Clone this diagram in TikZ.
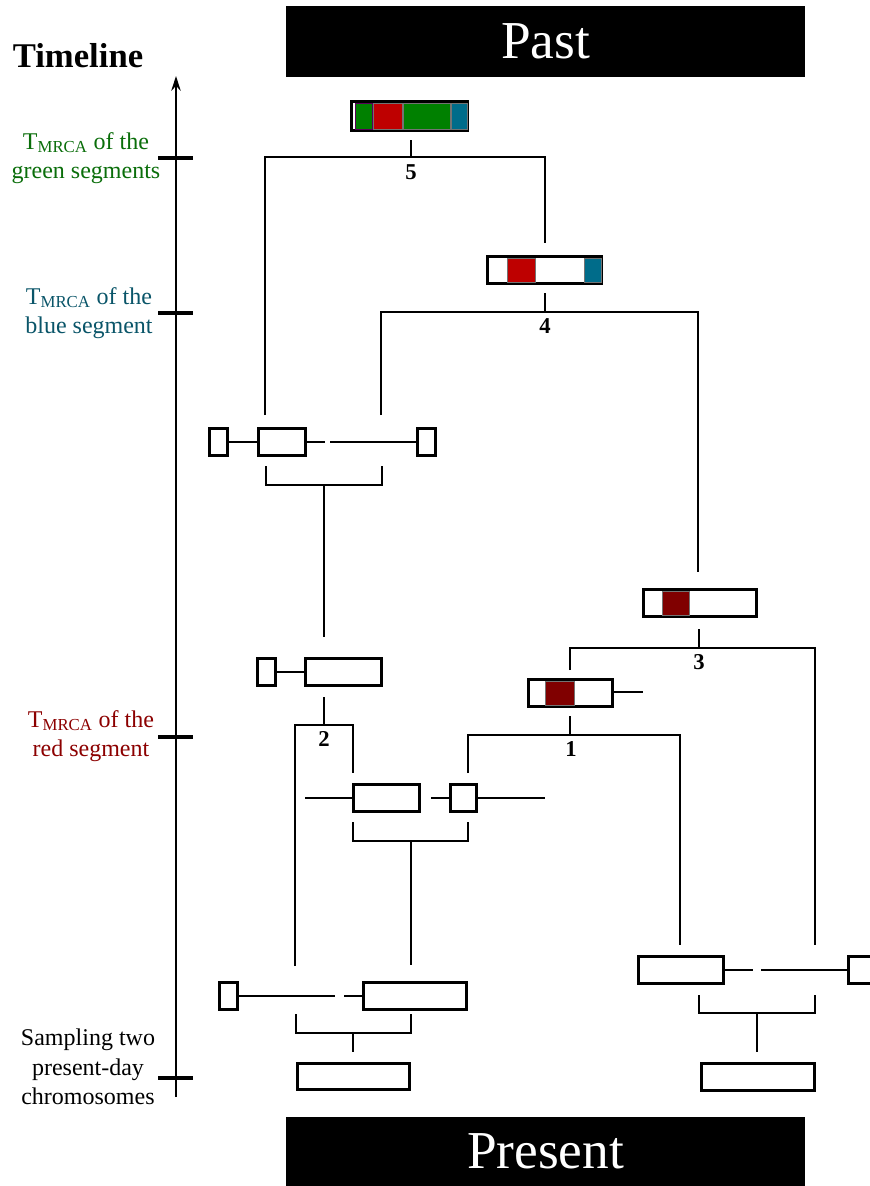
\documentclass[tikz,border=0pt]{standalone}
\usepackage{fontspec}
\setmainfont{Liberation Serif}
\usetikzlibrary{arrows.meta}

\definecolor{segGreen}{RGB}{0,128,0}
\definecolor{segRed}{RGB}{190,0,0}
\definecolor{segBlue}{RGB}{0,108,138}
\definecolor{segDark}{RGB}{128,0,0}
\definecolor{txtGreen}{RGB}{10,110,10}
\definecolor{txtBlue}{RGB}{10,85,105}
\definecolor{txtRed}{RGB}{140,0,0}

% chromosome box given by its outer corners (x1,y1) (x2,y2) in pixel units
\newcommand\chrom[5]{%
  \node[chrom, minimum width={(#4-#2-3)*0.75pt}, minimum height={(#5-#3-3)*0.75pt}]
    (#1) at ({(#2+#4)/2},{(#3+#5)/2}) {};}

\begin{document}
\begin{tikzpicture}[x=0.75pt,y=-0.75pt,
  chrom/.style={rectangle, draw=black, line width=2.4pt, fill=white, inner sep=0pt, outer sep=0pt},
  arm/.style={line width=2pt},
  tree/.style={line width=1.15pt},
  segc/.style={draw=black!55, line width=0.7pt},
  tlabel/.style={align=center, inner sep=0pt, font=\fontsize{18}{22}\selectfont},
  num/.style={anchor=north, inner sep=0pt, font=\bfseries\fontsize{17}{17}\selectfont},
  banner/.style={fill=black, text=white, inner sep=0pt, font=\fontsize{40}{40}\selectfont},
  axtick/.style={line width=3pt}]

\clip (0,0) rectangle (870,1186);
\fill[white] (0,0) rectangle (870,1186);

% banners
\node[banner, minimum width=519*0.75pt, minimum height=71*0.75pt] (past) at (545.5,41.5) {Past};
\node[banner, minimum width=519*0.75pt, minimum height=69*0.75pt] (present) at (545.5,1151.5) {Present};

% timeline
\node[inner sep=0pt, font=\bfseries\fontsize{26}{26}\selectfont] (tl) at (78,56) {Timeline};
\coordinate (axbot) at (176,1097);
\coordinate (axtop) at (176,76);
\draw[line width=1.5pt, -{Stealth[length=11pt, width=7pt]}] (axbot) -- (axtop);
\draw[axtick] (158,158) -- (193,158);
\draw[axtick] (158,313) -- (193,313);
\draw[axtick] (158,737) -- (193,737);
\draw[axtick] (158,1078) -- (193,1078);

\node[tlabel, text=txtGreen] (lgreen) at (86,158) {T\textsubscript{MRCA} of the\\green segments};
\node[tlabel, text=txtBlue] (lblue) at (89,313) {T\textsubscript{MRCA} of the\\blue segment};
\node[tlabel, text=txtRed] (lred) at (91,736) {T\textsubscript{MRCA} of the\\red segment};
\node[tlabel, text=black] (lsample) at (88,1067) {Sampling two\\present-day\\chromosomes};

% ---------- chromosomes ----------
% ancestor 5
\chrom{c5}{350}{100}{469}{132}
\draw[segc, fill=segGreen, draw=violet!70!black] (355,103) rectangle (372,129);
\draw[segc, fill=segRed] (373,103) rectangle (402,129);
\draw[segc, fill=segGreen] (403,103) rectangle (450,129);
\draw[segc, fill=segBlue] (451,103) rectangle (467,129);

% ancestor 4
\chrom{c4}{486}{255}{603}{285}
\draw[segc, fill=segRed] (507,258) rectangle (535,282);
\draw[segc, fill=segBlue] (584,258) rectangle (601,282);

% ancestor 3
\chrom{c3}{642}{588}{758}{618}
\draw[segc, fill=segDark] (662,591) rectangle (689,615);

% ancestor 1
\chrom{c1}{527}{678}{614}{708}
\draw[segc, fill=segDark] (545,681) rectangle (574,705);
\coordinate (c1end) at (643,692);
\draw[arm] (c1.east |- c1end) -- (c1end);

% recombining chromosome at the left
\chrom{la}{208}{427}{229}{457}
\chrom{lb}{257}{427}{307}{457}
\chrom{lc}{416}{427}{437}{457}
\coordinate (lgap1) at (325,442);
\coordinate (lgap2) at (330,442);
\draw[arm] (la.east) -- (lb.west);
\draw[arm] (lb.east) -- (lgap1);
\draw[arm] (lgap2) -- (lc.west);

% chromosome below it
\chrom{ma}{256}{657}{277}{687}
\chrom{mb}{304}{657}{383}{687}
\draw[arm] (ma.east) -- (mb.west);

% middle recombining chromosome
\chrom{na}{352}{783}{421}{813}
\chrom{nb}{449}{783}{478}{813}
\coordinate (nstart) at (305,798);
\coordinate (ngap) at (431,798);
\coordinate (nend) at (545,798);
\draw[arm] (nstart) -- (na.west);
\draw[arm] (ngap) -- (nb.west);
\draw[arm] (nb.east) -- (nend);

% lower left recombining chromosome
\chrom{pa}{218}{981}{239}{1011}
\chrom{pb}{362}{981}{468}{1011}
\coordinate (pgap1) at (335,996);
\coordinate (pgap2) at (344,996);
\draw[arm] (pa.east) -- (pgap1);
\draw[arm] (pgap2) -- (pb.west);

% lower right recombining chromosome
\chrom{qa}{637}{955}{725}{985}
\chrom{qb}{847}{955}{900}{985}
\coordinate (qgap1) at (753,970);
\coordinate (qgap2) at (761,970);
\draw[arm] (qa.east) -- (qgap1);
\draw[arm] (qgap2) -- (qb.west);

% sampled chromosomes
\chrom{s1}{296}{1062}{411}{1091}
\chrom{s2}{700}{1062}{816}{1092}

% ---------- genealogy ----------
% coalescence 5
\coordinate (t5) at (411,140);
\coordinate (j5) at (411,157);
\coordinate (j5l) at (265,157);
\coordinate (j5r) at (545,157);
\coordinate (e5l) at (265,415);
\coordinate (e5r) at (545,243);
\draw[tree] (t5) -- (j5);
\draw[tree] (e5l) -- (j5l) -- (j5r) -- (e5r);
\node[num] (n5) at (411,164) {5};

% coalescence 4
\coordinate (t4) at (545,293);
\coordinate (j4) at (545,312);
\coordinate (j4l) at (381,312);
\coordinate (j4r) at (698,312);
\coordinate (e4l) at (381,415);
\coordinate (e4r) at (698,572);
\draw[tree] (t4) -- (j4);
\draw[tree] (e4l) -- (j4l) -- (j4r) -- (e4r);
\node[num] (n4) at (545,318) {4};

% recombination bracket under the left chromosome
\coordinate (b1l) at (266,466);
\coordinate (b1r) at (382,466);
\coordinate (b1m) at (324,485);
\coordinate (b1e) at (324,637);
\draw[tree] (b1l) -- (b1l |- b1m) -- (b1r |- b1m) -- (b1r);
\draw[tree] (b1m) -- (b1e);

% coalescence 2
\coordinate (t2) at (324,697);
\coordinate (j2) at (324,725);
\coordinate (j2l) at (295,725);
\coordinate (j2r) at (353,725);
\coordinate (e2l) at (295,966);
\coordinate (e2r) at (353,773);
\draw[tree] (t2) -- (j2);
\draw[tree] (e2l) -- (j2l) -- (j2r) -- (e2r);
\node[num] (n2) at (324,731) {2};

% coalescence 3
\coordinate (t3) at (699,629);
\coordinate (j3) at (699,648);
\coordinate (j3l) at (570,648);
\coordinate (j3r) at (815,648);
\coordinate (e3l) at (570,670);
\coordinate (e3r) at (815,945);
\draw[tree] (t3) -- (j3);
\draw[tree] (e3l) -- (j3l) -- (j3r) -- (e3r);
\node[num] (n3) at (699,654) {3};

% coalescence 1
\coordinate (t1) at (570,716);
\coordinate (j1) at (570,735);
\coordinate (j1l) at (468,735);
\coordinate (j1r) at (680,735);
\coordinate (e1l) at (468,773);
\coordinate (e1r) at (680,945);
\draw[tree] (t1) -- (j1);
\draw[tree] (e1l) -- (j1l) -- (j1r) -- (e1r);
\node[num] (n1) at (571,741) {1};

% recombination bracket under the middle chromosome
\coordinate (b2l) at (353,822);
\coordinate (b2r) at (468,822);
\coordinate (b2m) at (411,841);
\coordinate (b2e) at (411,965);
\draw[tree] (b2l) -- (b2l |- b2m) -- (b2r |- b2m) -- (b2r);
\draw[tree] (b2m) -- (b2e);

% recombination bracket under the lower left chromosome
\coordinate (b3l) at (296,1014);
\coordinate (b3r) at (411,1014);
\coordinate (b3m) at (353,1033);
\coordinate (b3e) at (353,1052);
\draw[tree] (b3l) -- (b3l |- b3m) -- (b3r |- b3m) -- (b3r);
\draw[tree] (b3m) -- (b3e);

% recombination bracket under the lower right chromosome
\coordinate (b4l) at (699,995);
\coordinate (b4r) at (815,995);
\coordinate (b4m) at (757,1013);
\coordinate (b4e) at (757,1052);
\draw[tree] (b4l) -- (b4l |- b4m) -- (b4r |- b4m) -- (b4r);
\draw[tree] (b4m) -- (b4e);

\end{tikzpicture}
\end{document}
